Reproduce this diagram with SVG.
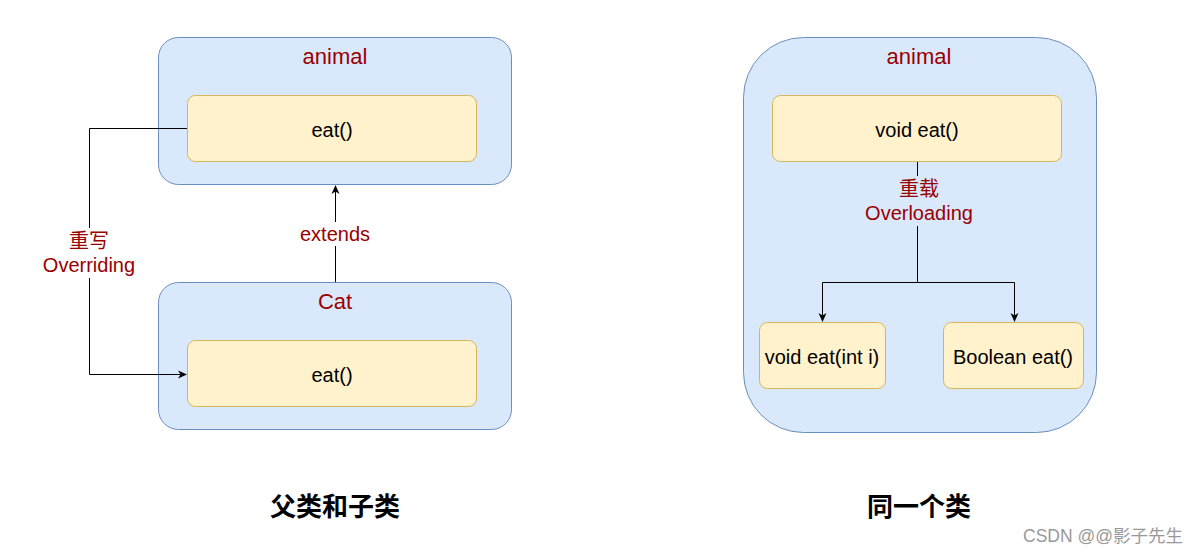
<svg xmlns="http://www.w3.org/2000/svg" width="1199" height="555" viewBox="0 0 1199 555">
<defs>
<marker id="arr" markerWidth="10" markerHeight="10" refX="8" refY="5" orient="auto" markerUnits="userSpaceOnUse">
<path d="M0,1 L9,5 L0,9 L2.5,5 Z" fill="#000"/>
</marker>
<style>
text{font-family:"Liberation Sans",Arial,"Noto Sans CJK SC",sans-serif;text-anchor:middle;dominant-baseline:central}
.cont{fill:#dae8fc;stroke:#6c8ebf;stroke-width:1}
.inner{fill:#fff2cc;stroke:#d6b656;stroke-width:1}
.red{fill:#990000;font-size:22px}
.lbl{fill:#990000;font-size:20px}
.m{fill:#000;font-size:20px}
.t{fill:#000;font-size:26px;font-weight:bold}
.conn{fill:none;stroke:#000;stroke-width:1}
</style>
</defs>
<rect width="1199" height="555" fill="#fff"/>
<g id="animal-left">
<rect class="cont" x="158.5" y="37.5" width="353" height="147" rx="20"/>
<text class="red" x="335" y="56">animal</text>
</g>
<g id="eat-left-top">
<rect class="inner" x="187.5" y="95.5" width="289" height="66" rx="8"/>
<text class="m" x="332" y="130">eat()</text>
</g>
<g id="cat">
<rect class="cont" x="158.5" y="282.5" width="353" height="147" rx="20"/>
<text class="red" x="335" y="301">Cat</text>
</g>
<g id="eat-left-bottom">
<rect class="inner" x="187.5" y="340.5" width="289" height="66" rx="8"/>
<text class="m" x="332" y="375">eat()</text>
</g>
<g id="animal-right">
<rect class="cont" x="743.5" y="37.5" width="353" height="395" rx="60"/>
<text class="red" x="919" y="56">animal</text>
</g>
<g id="void-eat">
<rect class="inner" x="772.5" y="95.5" width="289" height="66" rx="8"/>
<text class="m" x="917" y="130">void eat()</text>
</g>
<g id="void-eat-int">
<rect class="inner" x="759.5" y="322.5" width="126" height="66" rx="8"/>
<text class="m" x="822" y="357">void eat(int i)</text>
</g>
<g id="boolean-eat">
<rect class="inner" x="943.5" y="322.5" width="140" height="66" rx="8"/>
<text class="m" x="1013" y="357">Boolean eat()</text>
</g>
<g id="connectors">
<path class="conn" d="M335.5,282 L335.5,186" marker-end="url(#arr)"/>
<path class="conn" d="M187,128.5 L89.5,128.5 L89.5,374.5 L186,374.5" marker-end="url(#arr)"/>
<path class="conn" d="M917.5,162 L917.5,282.5"/>
<path class="conn" d="M917.5,282.5 L822.5,282.5 L822.5,321" marker-end="url(#arr)"/>
<path class="conn" d="M917.5,282.5 L1014.5,282.5 L1014.5,321" marker-end="url(#arr)"/>
<rect x="292" y="222" width="86" height="24" fill="#fff"/>
<text class="lbl" x="335" y="234">extends</text>
<rect x="38" y="228" width="102" height="50" fill="#fff"/>
<text class="lbl" x="89" y="241">重写</text>
<text class="lbl" x="89" y="265">Overriding</text>
<rect x="860" y="176" width="118" height="50" fill="#dae8fc"/>
<text class="lbl" x="919" y="189">重载</text>
<text class="lbl" x="919" y="213">Overloading</text>
</g>
<text class="t" x="335" y="507">父类和子类</text>
<text class="t" x="919" y="507">同一个类</text>
<text x="1183" y="536" style="text-anchor:end;font-size:17.5px;fill:#999">CSDN @@影子先生</text>
</svg>
